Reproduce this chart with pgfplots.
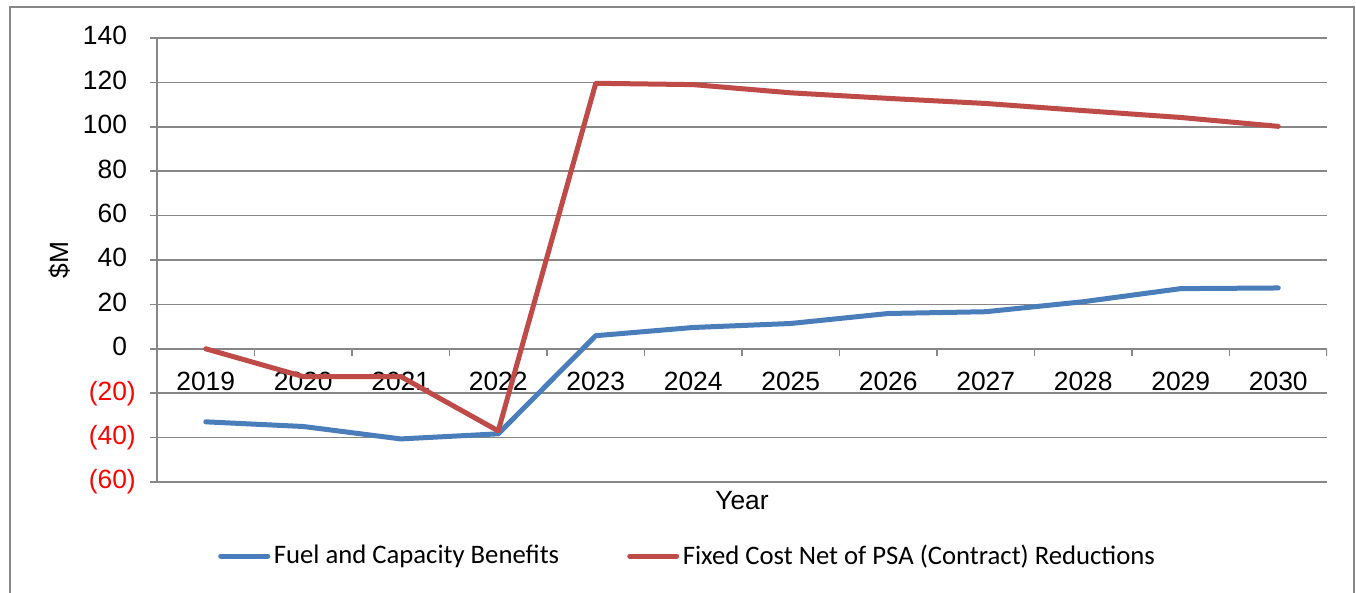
\documentclass[border=0pt]{standalone}
\usepackage{fontspec}
\setmainfont{Liberation Sans}
\newfontfamily\legendfont{Carlito}
\usepackage{pgfplots}
\pgfplotsset{compat=1.18}
\definecolor{fuelblue}{HTML}{4A7EBB}
\definecolor{fixedred}{HTML}{BE4B48}
\definecolor{gridgray}{HTML}{878787}

% annual values, $M
\pgfplotstableread{
x year fuel fixed
0 2019 -32.9 0.0
1 2020 -35.0 -12.5
2 2021 -40.6 -12.5
3 2022 -38.3 -37.0
4 2023 5.9 119.6
5 2024 9.6 119.0
6 2025 11.4 115.3
7 2026 15.9 112.8
8 2027 16.7 110.5
9 2028 21.2 107.3
10 2029 27.1 104.2
11 2030 27.4 100.2
}\benefits

\begin{document}
\begin{tikzpicture}[x=0.5pt,y=0.5pt]
% chart area frame
\draw[gridgray, line width=0.7pt] (10,-20) -- (10,586) -- (1354,586) -- (1354,-20);
\begin{axis}[
  at={(78.5pt,55.5pt)}, anchor=south west,
  scale only axis, width=585pt, height=222pt,
  xmin=-0.5, xmax=11.5, ymin=-60, ymax=140,
  axis x line=middle, axis y line=left,
  axis line style={gridgray, line width=0.8pt, -},
  every inner x axis line/.append style={-},
  every outer y axis line/.append style={-},
  font=\fontsize{13.2}{15.8}\selectfont,
  xtick={0,...,11},
  xticklabels={2019,2020,2021,2022,2023,2024,2025,2026,2027,2028,2029,2030},
  xtick style={draw=none},
  xticklabel style={anchor=center, yshift=-14.5pt},
  ytick={-60,-40,...,140},
  yticklabels={\textcolor{red}{(60)},\textcolor{red}{(40)},\textcolor{red}{(20)},
    0\phantom{)},20\phantom{)},40\phantom{)},60\phantom{)},80\phantom{)},
    100\phantom{)},120\phantom{)},140\phantom{)}},
  ytick style={gridgray, line width=0.8pt},
  ytick align=outside, major tick length=3.5pt,
  yticklabel style={xshift=-3.6pt},
  ymajorgrids, major grid style={gridgray, line width=0.8pt},
  xlabel={Year},
  xlabel style={at={(axis description cs:0.5,-0.0428)}, anchor=center},
  ylabel={\$M},
  ylabel style={at={(axis description cs:-0.0829,0.5)}, anchor=center, rotate=0},
  legend columns=2,
  legend image code/.code={\draw[#1, line cap=round] (1.25pt,0pt) -- (24.75pt,0pt);},
  legend style={at={(axis description cs:0.052,-0.1667)}, anchor=west,
    draw=none, fill=none, inner sep=0pt,
    font=\legendfont\fontsize{13.35}{16}\selectfont,
    nodes={inner sep=0pt},
    /tikz/every odd column/.append style={column sep=1.8pt},
    /tikz/every even column/.append style={column sep=34pt}},
]
\addplot[fuelblue, line width=2.5pt, line join=round, line cap=round, mark=none]
  table[x=x, y=fuel] {\benefits};
\addlegendentry{Fuel and Capacity Benefits}
\addplot[fixedred, line width=2.5pt, line join=round, line cap=round, mark=none]
  table[x=x, y=fixed] {\benefits};
\addlegendentry{Fixed Cost Net of PSA (Contract) Reductions}
% category boundary ticks on the zero line
\pgfplotsinvokeforeach{-0.5,0.5,...,11.5}{
  \draw[gridgray, line width=0.8pt] (axis cs:#1,0) -- ++(0pt,-3.5pt);
}
\end{axis}
\pgfresetboundingbox
\useasboundingbox (0,0) rectangle (1356,593);
\end{tikzpicture}
\end{document}
